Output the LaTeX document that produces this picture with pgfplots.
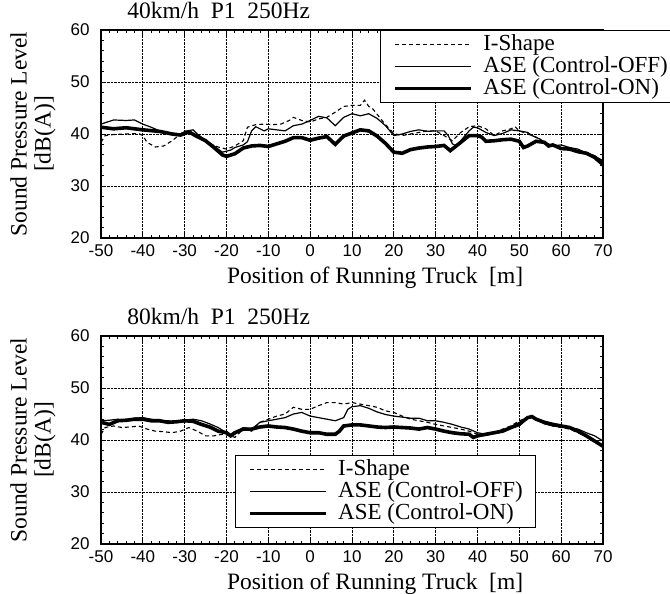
\documentclass[border=0pt]{standalone}
\usepackage{fontspec}
\setmainfont{Liberation Serif}
\setsansfont{Liberation Sans}
\usepackage{pgfplots}
\pgfplotsset{compat=1.18}

\pgfplotsset{
  spl/.style={
    scale only axis, width=502pt, height=208pt,
    xmin=-50, xmax=70, ymin=20, ymax=60,
    xtick={-50,-40,...,70}, ytick={20,30,...,60},
    minor x tick num=4, minor y tick num=4,
    tick align=inside, major tick length=5pt, minor tick length=3pt,
    xtick pos=both, ytick pos=both,
    grid=major, grid style={densely dotted, black, line width=0.7pt},
    axis line style={line width=1.1pt},
    every tick/.style={black, line width=0.8pt},
    /pgf/number format/assume math mode=true,
    tick label style={font=\sffamily\fontsize{17}{17}\selectfont},
    xticklabel style={yshift=-3pt},
    yticklabel style={xshift=-8pt},
    ylabel={Sound Pressure Level\\{}[dB(A)]},
    ylabel style={font=\fontsize{23.5}{24}\selectfont, align=center,
      at={(axis description cs:-0.09,0.5)}, anchor=south, inner sep=0pt},
    xlabel={Position of Running Truck \ [m]},
    xlabel style={font=\fontsize{23.5}{24}\selectfont,
      at={(axis description cs:0.546,-0.218)}, anchor=base, inner sep=0pt},
    title style={font=\fontsize{23.5}{24}\selectfont,
      at={(axis description cs:0.052,1.028)}, anchor=base west, inner sep=0pt},
    legend cell align=left,
    legend image code/.code={\draw[#1] (0pt,0pt) -- (76pt,0pt); \path (86pt,0pt);},
    legend style={font=\fontsize{23}{24}\selectfont, draw=black, line width=1.1pt,
      fill=white, inner xsep=13pt, inner ysep=3pt, row sep=0pt,
      nodes={inner sep=0pt, text height=16.5pt, text depth=5.5pt}},
  },
  ishape/.style={black, line width=1.1pt, dash pattern=on 4pt off 3pt},
  aseoff/.style={black, line width=1.2pt},
  aseon/.style={black, line width=3.6pt},
}

\begin{document}
\begin{tikzpicture}
\useasboundingbox (0pt,0pt) rectangle (670pt,-594pt);

\begin{axis}[spl, at={(101pt,-30pt)}, anchor=north west,
  title={40km/h \ P1 \ 250Hz},
  legend style={at={(axis description cs:0.556,1.0)}, anchor=north west}]
% I-Shape
\addplot[ishape] coordinates {
(-50,38.4) (-49,39.7) (-47,39.9) (-44,40.0) (-41,40.1) (-40,39.7) (-39,38.4) (-37,37.5)
(-35,37.7) (-33,38.7) (-31,40.0) (-30,40.6) (-28,40.0) (-26,39.0) (-24,38.2) (-22,37.5)
(-20,37.1) (-18,37.7) (-16,38.7) (-15,41.3) (-13,41.8) (-11,41.9) (-9,41.8) (-7,41.9)
(-5,42.6) (-4,43.2) (-2,42.6) (0,42.3) (2,42.9) (4,43.2) (6,44.2) (8,45.3) (10,45.5)
(12,45.5) (13,46.5) (14,45.3) (15,44.8) (16,43.8) (18,41.8) (20,40.1) (22,39.7) (24,40.0)
(26,40.3) (28,40.6) (30,40.6) (32,39.7) (34,38.7) (36,40.3) (38,41.4) (40,41.6) (42,41.0)
(44,39.7) (46,40.6) (48,41.0) (49,41.4) (50,40.6) (52,40.0) (54,39.4) (56,38.4) (58,37.7)
(60,37.4) (62,37.1) (64,36.8) (66,36.5) (68,35.8) (70,34.8)
};
\addlegendentry{I-Shape}
% ASE control off
\addplot[aseoff] coordinates {
(-50,41.9) (-47,42.7) (-44,42.6) (-42,42.7) (-40,41.9) (-38,41.3) (-36,40.6) (-34,40.3)
(-32,40.0) (-31,39.8) (-30,40.5) (-28,40.8) (-27,40.0) (-25,38.8) (-23,37.7) (-21,36.5)
(-19,36.9) (-18,37.4) (-16,37.9) (-15,38.5) (-14,40.6) (-13,41.4) (-11,40.6) (-10,41.0)
(-8,40.8) (-6,40.6) (-4,41.6) (-2,41.9) (0,42.6) (2,43.4) (4,43.1) (6,41.6) (8,43.2)
(10,43.9) (12,43.5) (14,43.9) (16,43.0) (18,41.6) (20,39.7) (22,40.0) (24,40.5) (26,40.8)
(28,40.5) (30,40.6) (32,40.6) (33,39.7) (34,38.1) (35,37.7) (36,38.7) (38,40.6) (39,41.3)
(40,41.2) (42,40.3) (44,39.7) (46,40.1) (48,40.8) (50,40.6) (52,40.3) (53,39.7) (55,39.0)
(56,38.4) (58,37.7) (60,37.9) (62,37.4) (64,37.1) (66,36.3) (68,35.8) (70,34.8)
};
\addlegendentry{ASE (Control-OFF)}
% ASE control on
\addplot[aseon] coordinates {
(-50,41.3) (-47,41.0) (-44,41.2) (-40,40.8) (-36,40.5) (-33,40.0) (-31,39.8) (-29,40.4)
(-27,39.5) (-25,38.7) (-23,37.4) (-21,36.0) (-20,35.7) (-18,36.2) (-16,37.3) (-14,37.7)
(-12,37.8) (-10,37.6) (-8,38.1) (-6,38.6) (-4,39.3) (-2,39.3) (0,38.8) (2,39.2) (4,39.5)
(6,38.0) (8,39.6) (10,40.2) (12,40.8) (14,40.6) (16,39.6) (18,38.2) (20,36.5) (22,36.3)
(24,37.0) (26,37.3) (28,37.5) (30,37.6) (32,37.8) (33.5,36.8) (36,38.4) (38,39.7) (40,39.7)
(41,39.4) (42,38.6) (44,38.7) (46,38.9) (48,39.0) (50,38.6) (51,37.4) (52,37.7) (54,38.6)
(56,38.4) (57,37.7) (58,37.9) (60,37.2) (62,37.1) (64,36.6) (66,36.3) (68,35.5) (70,34.1)
};
\addlegendentry{ASE (Control-ON)}
\end{axis}

\begin{axis}[spl, at={(101pt,-336pt)}, anchor=north west,
  title={80km/h \ P1 \ 250Hz},
  legend style={at={(axis description cs:0.267,0.428)}, anchor=north west}]
% I-Shape
\addplot[ishape] coordinates {
(-50,41.1) (-49,42.4) (-47,42.7) (-45,42.4) (-43,42.5) (-41,42.7) (-39,42.1) (-37,41.7)
(-35,41.6) (-33,41.4) (-31,41.7) (-29,42.4) (-27,41.7) (-25,40.8) (-23,40.8) (-21,41.1)
(-19,40.8) (-18,40.5) (-16,42.1) (-14,41.7) (-12,43.4) (-10,44.0) (-8,44.6) (-6,45.0)
(-4,46.3) (-2,45.9) (0,45.9) (2,46.6) (4,47.2) (6,47.2) (8,46.9) (10,47.2) (12,46.9)
(14,46.6) (16,46.3) (18,45.6) (20,45.3) (22,44.6) (24,44.0) (26,43.7) (28,43.4) (30,43.0)
(32,42.7) (34,42.4) (36,42.1) (38,41.7) (40,41.1) (42,40.8) (44,41.4) (46,42.1) (48,42.7)
(50,43.7) (52,44.3) (53,44.6) (54,44.0) (56,43.4) (58,42.7) (60,42.4) (62,42.1) (64,41.4)
(66,40.8) (68,39.8) (70,38.8)
};
\addlegendentry{I-Shape}
% ASE control off
\addplot[aseoff] coordinates {
(-50,43.7) (-48,43.8) (-46,44.0) (-44,43.8) (-42,44.2) (-40,44.3) (-38,44.0) (-36,43.7)
(-34,43.7) (-32,43.4) (-30,43.8) (-28,44.0) (-26,43.7) (-24,43.1) (-22,42.4) (-20,41.4)
(-19,40.8) (-18,41.1) (-16,42.4) (-14,42.1) (-12,43.4) (-10,43.7) (-8,44.0) (-6,44.3)
(-4,45.0) (-2,45.3) (0,44.6) (2,44.3) (4,44.0) (6,43.7) (8,44.3) (9,45.9) (10,46.4)
(12,46.6) (14,46.1) (16,45.4) (18,44.9) (20,44.6) (22,44.4) (24,44.2) (26,44.2) (28,43.7)
(30,43.7) (32,43.4) (34,43.0) (36,42.5) (38,42.1) (40,41.4) (42,41.1) (44,41.4) (46,41.7)
(48,42.5) (50,43.4) (52,44.3) (53,44.6) (54,44.0) (56,43.1) (58,42.7) (60,42.5) (62,42.4)
(64,42.1) (66,41.4) (68,40.8) (70,39.8)
};
\addlegendentry{ASE (Control-OFF)}
% ASE control on
\addplot[aseon] coordinates {
(-50,43.4) (-48,43.0) (-46,43.7) (-44,43.8) (-42,44.0) (-40,44.0) (-38,43.7) (-36,43.7)
(-34,43.4) (-32,43.5) (-30,43.7) (-28,43.6) (-26,43.0) (-24,42.5) (-22,41.7) (-20,41.4)
(-19,40.8) (-18,41.4) (-16,42.1) (-14,42.1) (-12,42.5) (-10,42.7) (-8,42.5) (-6,42.4)
(-4,42.1) (-2,41.7) (0,41.4) (2,41.4) (4,41.1) (6,41.1) (7,41.7) (8,42.7) (10,42.9)
(12,42.9) (14,42.7) (16,42.5) (18,42.4) (20,42.5) (22,42.4) (24,42.3) (26,42.1) (28,42.4)
(30,42.1) (32,41.7) (34,41.4) (36,41.2) (38,41.1) (39,40.5) (40,40.8) (42,41.1) (44,41.4)
(46,41.7) (48,42.4) (50,43.0) (51,43.7) (52,44.3) (53,44.5) (54,44.0) (56,43.4) (58,43.0)
(60,42.7) (62,42.4) (64,41.7) (66,40.8) (68,39.8) (70,38.8)
};
\addlegendentry{ASE (Control-ON)}
\end{axis}
\end{tikzpicture}
\end{document}
